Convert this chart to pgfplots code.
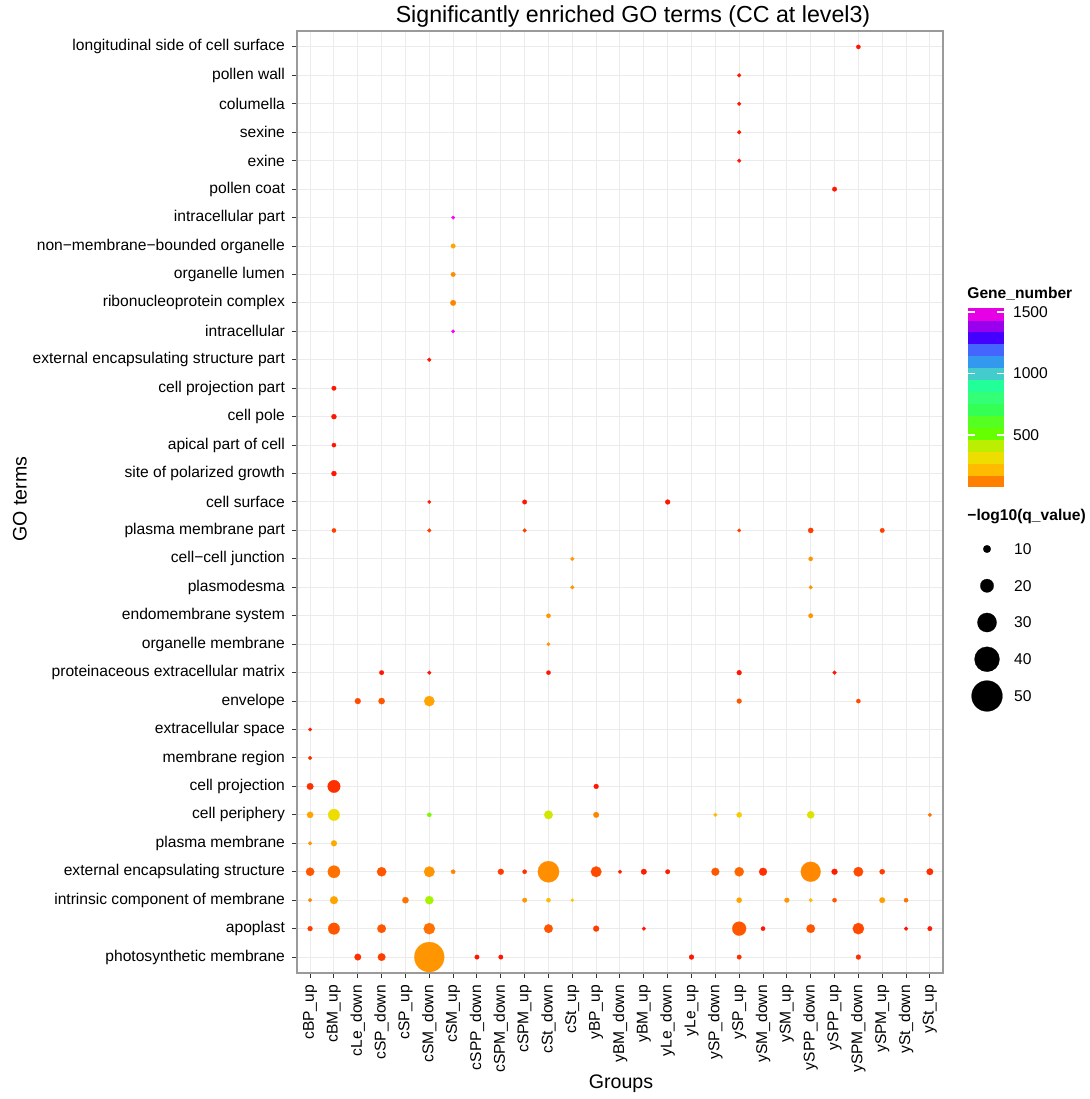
\documentclass[border=0pt]{standalone}
\usepackage{pgfplots}
\pgfplotsset{compat=1.18}
\usepackage{pgfplotstable}
\usepackage{fontspec}
\setmainfont{Liberation Sans}
\usetikzlibrary{calc}

% x: group index (0=cBP_up ... 26=ySt_up), y: GO term index (0=photosynthetic membrane ... 32=longitudinal side)
% g: Gene_number, q: -log10(q_value)
\pgfplotstableread{
x y g q
2 0 95 8.3
3 0 100 10
5 0 160 48.4
7 0 85 4.8
8 0 85 4.8
16 0 85 5.3
18 0 95 4.8
23 0 95 5.3
0 1 100 5.3
1 1 110 16.9
3 1 110 11.7
5 1 120 16.4
10 1 110 11.7
12 1 100 7.1
14 1 85 3.6
18 1 110 20.9
19 1 85 4.3
21 1 110 11.7
23 1 105 16.4
25 1 85 3.6
26 1 88 4.8
0 2 135 3.6
1 2 185 10.5
4 2 120 7.8
5 2 440 11.2
9 2 160 4.8
10 2 222 4.3
11 2 255 2.6
18 2 185 6.0
20 2 160 5.3
21 2 222 3.6
22 2 110 4.3
24 2 175 6.6
25 2 120 4.3
0 3 110 11.2
1 3 120 18.1
3 3 110 12.9
5 3 160 15.2
6 3 135 4.3
8 3 100 7.1
9 3 95 4.3
10 3 150 33.6
12 3 105 15.2
13 3 88 3.6
14 3 88 6.6
15 3 88 4.8
17 3 110 10.5
18 3 115 12.9
19 3 95 10.5
21 3 140 31.2
22 3 88 7.1
23 3 105 13.4
24 3 100 6.0
26 3 95 8.3
0 4 160 3.6
1 4 195 7.1
0 5 185 7.8
1 5 320 16.9
5 5 490 4.3
10 5 375 11.7
12 5 135 6.6
17 5 222 3.6
18 5 270 6.0
21 5 350 9.5
26 5 120 3.6
0 6 95 8.3
1 6 95 18.6
12 6 85 5.3
0 7 95 3.6
0 8 88 3.1
2 9 105 7.1
3 9 110 7.8
5 9 185 14.7
18 9 110 5.3
23 9 105 4.3
3 10 85 4.8
5 10 85 3.6
10 10 85 4.3
18 10 85 5.3
22 10 85 3.6
10 11 160 3.1
10 12 160 4.3
21 12 160 4.8
11 13 160 3.6
21 13 160 3.6
11 14 160 3.6
21 14 160 4.3
1 15 100 4.3
5 15 100 3.6
9 15 100 3.6
18 15 100 3.1
21 15 100 6.0
24 15 100 4.8
5 16 88 3.1
9 16 85 4.8
15 16 85 5.3
1 17 85 5.7
1 18 85 4.3
1 19 85 5.7
1 20 85 4.8
5 21 85 3.6
6 22 1530 3.1
6 23 135 6.6
6 24 145 4.8
6 25 185 4.8
6 26 1530 3.1
22 27 85 4.8
18 28 85 3.6
18 29 85 3.6
18 30 85 3.6
18 31 85 3.6
23 32 85 4.3
}\godata

\pgfplotstableread{
x q
0 10
0 20
0 30
0 40
0 50
}\sizelegend

\pgfplotsset{
  colormap={go}{
    rgb255(77)=(255,0,0)
    rgb255(125)=(255,127,0)
    rgb255(222)=(255,187,0)
    rgb255(320)=(238,221,0)
    rgb255(417)=(187,238,0)
    rgb255(514)=(102,255,0)
    rgb255(611)=(85,255,34)
    rgb255(708)=(51,255,85)
    rgb255(805)=(51,255,119)
    rgb255(902)=(34,255,153)
    rgb255(999)=(68,204,204)
    rgb255(1096)=(51,153,238)
    rgb255(1193)=(68,102,255)
    rgb255(1290)=(68,0,255)
    rgb255(1387)=(153,0,238)
    rgb255(1484)=(230,0,230)
    rgb255(1532)=(255,0,255)
  },
}

\definecolor{gridc}{HTML}{EBEBEB}
\definecolor{framec}{HTML}{9A9A9A}
\definecolor{tickc}{HTML}{333333}

\newcommand{\tickfont}{\fontsize{7.8}{9}\selectfont}

\begin{document}
\begin{tikzpicture}
\useasboundingbox (0,0) rectangle (545pt,549.5pt);
\begin{axis}[
  at={(148.5pt,63pt)}, anchor=south west,
  scale only axis, width=323pt, height=471pt,
  xmin=-0.55, xmax=26.55, ymin=-0.56, ymax=32.56,
  xtick={0,...,26}, ytick={0,...,32},
  xticklabels={cBP\_up,cBM\_up,cLe\_down,cSP\_down,cSP\_up,cSM\_down,cSM\_up,cSPP\_down,cSPM\_down,cSPM\_up,cSt\_down,cSt\_up,yBP\_up,yBM\_down,yBM\_up,yLe\_down,yLe\_up,ySP\_down,ySP\_up,ySM\_down,ySM\_up,ySPP\_down,ySPP\_up,ySPM\_down,ySPM\_up,ySt\_down,ySt\_up},
  yticklabels={photosynthetic membrane,apoplast,intrinsic component of membrane,external encapsulating structure,plasma membrane,cell periphery,cell projection,membrane region,extracellular space,envelope,proteinaceous extracellular matrix,organelle membrane,endomembrane system,plasmodesma,cell−cell junction,plasma membrane part,cell surface,site of polarized growth,apical part of cell,cell pole,cell projection part,external encapsulating structure part,intracellular,ribonucleoprotein complex,organelle lumen,non−membrane−bounded organelle,intracellular part,pollen coat,exine,sexine,columella,pollen wall,longitudinal side of cell surface},
  xticklabel style={rotate=90, anchor=east, font=\tickfont, text=black},
  yticklabel style={font=\tickfont, text=black},
  tick align=outside, tick pos=left, major tick length=2.5pt,
  tick style={tickc, line width=0.5pt},
  grid=major, major grid style={gridc, line width=0.5pt},
  axis line style={framec, line width=0.6pt},
  colormap name=go, point meta min=77, point meta max=1532,
  colorbar sampled,
  colorbar style={
    at={($(parent axis.south east)+(4pt,243pt)$)}, anchor=south west,
    scale only axis, width=18pt, height=89.5pt,
    samples=16,
    ytick={500,1000,1500},
    ytick pos=both, yticklabel pos=right,
    ytick align=inside, major tick length=3.5pt,
    tick style={white, line width=0.6pt},
    axis line style={draw=none},
    yticklabel style={font=\tickfont, xshift=1pt},
    /pgf/number format/assume math mode=true,
    /pgf/number format/1000 sep={},
  },
]
\addplot[scatter, only marks, mark=*,
  mark options={line width=0.1pt},
  point meta=explicit,
  scatter/use mapped color={draw=mapped color, fill=mapped color},
  visualization depends on={\thisrow{q} \as \qv},
  scatter/@pre marker code/.append style={/tikz/mark size={0.45+0.145*\qv}}]
  table[x=x, y=y, meta=g] {\godata};
\end{axis}

% size legend
\begin{axis}[
  at={(483.5pt,201.5pt)}, anchor=south west,
  scale only axis, width=20pt, height=73.5pt,
  xmin=-1, xmax=1, ymin=10, ymax=50, y dir=reverse, clip=false,
  axis line style={draw=none}, xtick=\empty, ytick={10,20,30,40,50},
  yticklabel pos=right, major tick length=0pt,
  yticklabel style={font=\tickfont, anchor=west},
  /pgf/number format/assume math mode=true,
]
\addplot[scatter, only marks, mark=*,
  mark options={line width=0.1pt},
  point meta=explicit,
  scatter/use mapped color={draw=black, fill=black},
  visualization depends on={\thisrow{q} \as \qv},
  scatter/@pre marker code/.append style={/tikz/mark size={0.45+0.145*\qv}}]
  table[x=x, y=q, meta=q] {\sizelegend};
\end{axis}

% texts
\node[font=\fontsize{11.6}{13}\selectfont] at (316.5pt,541pt) {Significantly enriched GO terms (CC at level3)};
\node[font=\fontsize{9.8}{11}\selectfont] at (310.5pt,7.5pt) {Groups};
\node[font=\fontsize{9.8}{11}\selectfont, rotate=90] at (10pt,300pt) {GO terms};
\node[font=\bfseries\tickfont, anchor=west, inner sep=0pt] at (483.5pt,402.5pt) {Gene\_number};
\node[font=\bfseries\tickfont, anchor=west, inner sep=0pt] at (483.5pt,291pt) {−log10(q\_value)};
\end{tikzpicture}
\end{document}
